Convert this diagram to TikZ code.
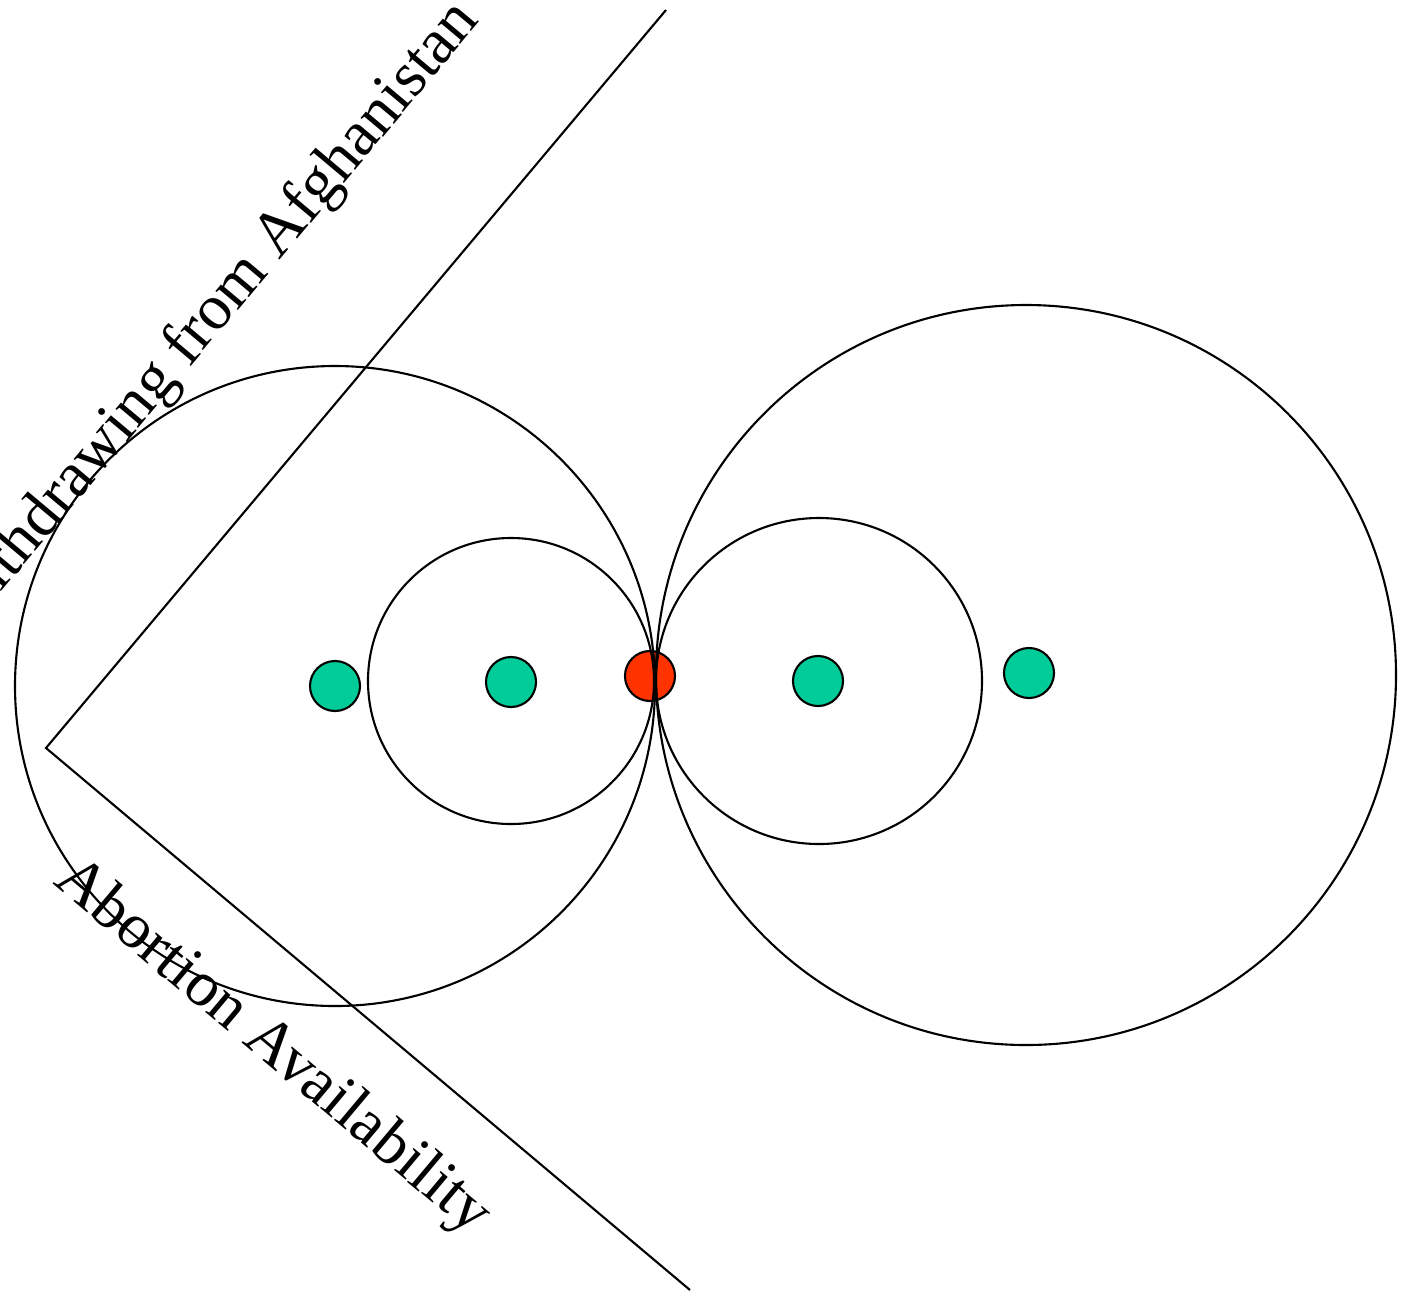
\documentclass[tikz,border=0pt]{standalone}
\usepackage{fontspec}
\setmainfont{Liberation Serif}
\definecolor{dotgreen}{HTML}{00CC99}
\definecolor{dotred}{HTML}{FF3300}
\tikzset{
  voter/.style={circle, draw, line width=0.6pt, fill=dotgreen, minimum size=0.5cm, inner sep=0pt},
  status/.style={voter, fill=dotred},
  axislabel/.style={font=\fontsize{18.2}{22}\selectfont, inner sep=0pt}
}
\begin{document}
\begin{tikzpicture}[x=0.01cm, y=-0.01cm, line width=0.6pt]
\useasboundingbox (0,0) rectangle (1403,1290);
\coordinate (corner) at (46,748);
\coordinate (ytip) at (666,10);
\coordinate (xtip) at (690,1290);
\draw (ytip) -- (corner) -- (xtip);
\node[status] (sq) at (650,676) {};
\draw (335,686) circle (320);
\draw (511,681) circle (143);
\draw (819,681) circle (163);
\draw (1026,675) circle (370);
\node[voter] (v1) at (335,686) {};
\node[voter] (v2) at (511,682) {};
\node[voter] (v3) at (818,681) {};
\node[voter] (v4) at (1029,673) {};
\node[axislabel, rotate=50] (ylab) at (210,319) {Withdrawing from Afghanistan};
\node[axislabel, rotate=-40] (xlab) at (272,1048) {Abortion Availability};
\end{tikzpicture}
\end{document}
